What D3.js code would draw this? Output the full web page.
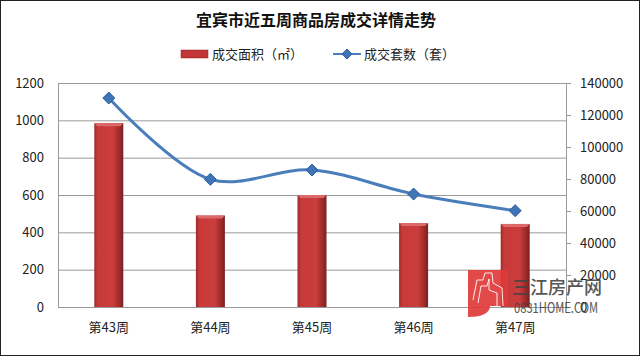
<!DOCTYPE html>
<html>
<head>
<meta charset="utf-8">
<script src="https://cdn.jsdelivr.net/npm/d3@7"></script>
<style>
    html, body { margin: 0; padding: 0; background: #fff; }
    svg { display: block; font-family: "Noto Sans CJK SC", "Liberation Sans", sans-serif; text-spacing-trim: space-all; }
</style>
</head>
<body>
<svg id="chart"></svg>
<script>
const weeks = ['第43周', '第44周', '第45周', '第46周', '第47周'];
const areaValues = [985, 490, 600, 450, 445];
const unitValues = [130600, 79800, 85600, 70600, 60200];
const areaTicks = [0, 200, 400, 600, 800, 1000, 1200];
const unitTicks = [0, 20000, 40000, 60000, 80000, 100000, 120000, 140000];

const width = 640, height = 356;
const margin = { top: 83, bottom: 49, left: 58, right: 74 };
const innerW = width - margin.left - margin.right;
const innerH = height - margin.top - margin.bottom;

const svg = d3.select('#chart').attr('width', width).attr('height', height);

// bar and swatch fill
const defs = svg.append('defs');
const barFill = defs.append('linearGradient').attr('id', 'barFill');
barFill.append('stop').attr('offset', '0%').attr('stop-color', '#9c2a2a');
barFill.append('stop').attr('offset', '12%').attr('stop-color', '#c83a3a');
barFill.append('stop').attr('offset', '65%').attr('stop-color', '#cb3c3c');
barFill.append('stop').attr('offset', '100%').attr('stop-color', '#7e1f1f');

svg.append('rect')
    .attr('x', 0.5).attr('y', 0.5)
    .attr('width', width - 1).attr('height', height - 1)
    .attr('fill', '#fff').attr('stroke', '#222');

svg.append('text')
    .attr('x', 316).attr('y', 26)
    .attr('text-anchor', 'middle')
    .attr('font-size', 16).attr('font-weight', 700)
    .attr('fill', '#111')
    .text('宜宾市近五周商品房成交详情走势');

const chart = svg.append('g')
    .attr('transform', `translate(${margin.left},${margin.top})`);

const xScale = d3.scaleBand().domain(weeks).range([0, innerW]);
const yArea = d3.scaleLinear().domain([0, 1200]).range([innerH, 0]);
const yUnits = d3.scaleLinear().domain([0, 140000]).range([innerH, 0]);

// gridlines
chart.append('g')
    .selectAll('line')
    .data(areaTicks)
    .join('line')
    .attr('x1', 0).attr('x2', innerW)
    .attr('y1', d => yArea(d) + 0.5).attr('y2', d => yArea(d) + 0.5)
    .attr('stroke', '#9a9a9a');

chart.append('line')
    .attr('x1', 0.5).attr('x2', 0.5)
    .attr('y1', 0).attr('y2', innerH)
    .attr('stroke', '#9a9a9a');

chart.append('line')
    .attr('x1', innerW + 0.5).attr('x2', innerW + 0.5)
    .attr('y1', 0).attr('y2', innerH)
    .attr('stroke', '#9a9a9a');

// bars
const barWidth = 29;
const bars = chart.append('g')
    .selectAll('g')
    .data(areaValues)
    .join('g')
    .attr('transform', (d, i) => `translate(${xScale(weeks[i]) + xScale.bandwidth() / 2 - barWidth / 2},0)`);

bars.append('rect')
    .attr('y', d => yArea(d))
    .attr('width', barWidth)
    .attr('height', d => innerH - yArea(d))
    .attr('fill', 'url(#barFill)');

bars.append('path')
    .attr('d', d => `M0,${yArea(d)}h${barWidth}l-3,3h-${barWidth - 6}z`)
    .attr('fill', '#dc6a6a');

// line
const line = d3.line()
    .x((d, i) => xScale(weeks[i]) + xScale.bandwidth() / 2)
    .y(d => yUnits(d))
    .curve(d3.curveCatmullRom.alpha(0.5));

chart.append('path')
    .datum(unitValues)
    .attr('d', line)
    .attr('fill', 'none')
    .attr('stroke', '#4a7ebb')
    .attr('stroke-width', 3);

chart.append('g')
    .selectAll('path')
    .data(unitValues)
    .join('path')
    .attr('transform', (d, i) => `translate(${xScale(weeks[i]) + xScale.bandwidth() / 2},${yUnits(d)})`)
    .attr('d', 'M0,-6L6,0L0,6L-6,0Z')
    .attr('fill', '#3f74b8')
    .attr('stroke', '#2f5f9c');

// axes
const xAxis = d3.axisBottom(xScale).tickSize(0).tickPadding(16);
const yAxisL = d3.axisLeft(yArea).tickValues(areaTicks).tickSize(0).tickPadding(14).tickFormat(d3.format('d'));
const yAxisR = d3.axisRight(yUnits).tickValues(unitTicks).tickSize(5).tickPadding(9).tickFormat(d3.format('d'));

const xAxisG = chart.append('g').attr('transform', `translate(0,${innerH})`).call(xAxis);
const yAxisLG = chart.append('g').call(yAxisL);
const yAxisRG = chart.append('g').attr('transform', `translate(${innerW},0)`).call(yAxisR);

[xAxisG, yAxisLG, yAxisRG].forEach(g => {
    g.select('.domain').remove();
    g.selectAll('line').attr('stroke', '#9a9a9a');
    g.selectAll('text').attr('font-size', 13).attr('fill', '#222')
        .attr('font-family', '"Noto Sans CJK SC", "Liberation Sans", sans-serif');
});

// legend
const legend = svg.append('g');
legend.append('rect')
    .attr('x', 181).attr('y', 50).attr('width', 27).attr('height', 8)
    .attr('fill', '#c23636').attr('stroke', '#8e2323').attr('stroke-width', 0.5);
legend.append('text')
    .attr('x', 212).attr('y', 59).attr('font-size', 13).attr('fill', '#222')
    .text('成交面积（㎡）');
legend.append('line')
    .attr('x1', 333).attr('x2', 361).attr('y1', 54).attr('y2', 54)
    .attr('stroke', '#4a7ebb').attr('stroke-width', 2);
legend.append('path')
    .attr('transform', 'translate(347,54)')
    .attr('d', 'M0,-5L5,0L0,5L-5,0Z')
    .attr('fill', '#3f74b8').attr('stroke', '#2f5f9c');
legend.append('text')
    .attr('x', 364).attr('y', 59).attr('font-size', 13).attr('fill', '#222')
    .text('成交套数（套）');

// site watermark, sits over the last bar and the axis labels
const mark = svg.append('g');
mark.append('path')
    .attr('d', 'M468,270H508V306H490C490,314 480,317 468,317Z')
    .attr('fill', '#e03a3a').attr('opacity', 0.92);
mark.append('path')
    .attr('d', 'M473,300L477,280H483L485,273H492L493,283L502,288L503,306M478,303L481,286H487L489,279V290L497,293V306')
    .attr('fill', 'none').attr('stroke', '#fff').attr('stroke-width', 1).attr('opacity', 0.9);
mark.append('text')
    .attr('x', 512).attr('y', 294).attr('font-size', 18).attr('font-weight', 500)
    .attr('fill', '#444').attr('opacity', 0.9)
    .text('三江房产网');
mark.append('text')
    .attr('x', 514).attr('y', 313).attr('font-size', 14)
    .attr('textLength', 84).attr('lengthAdjust', 'spacingAndGlyphs')
    .attr('fill', '#444').attr('opacity', 0.9)
    .text('0831HOME.COM');
</script>
</body>
</html>
